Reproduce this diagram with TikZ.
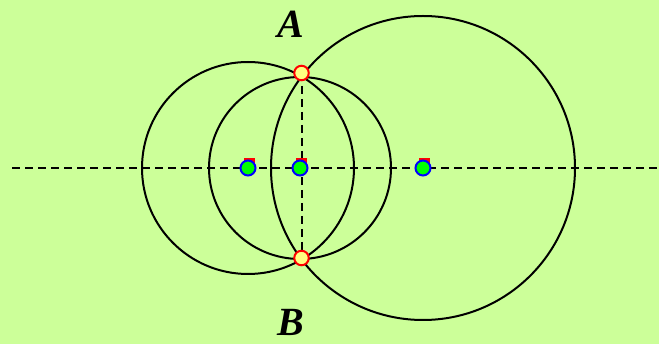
\documentclass[tikz,border=0pt]{standalone}
\usepackage{fontspec}
\setmainfont{Liberation Serif}
\usetikzlibrary{calc}
\definecolor{bgc}{RGB}{204,255,153}
\definecolor{ptyellow}{RGB}{255,255,128}
\definecolor{ctrgreen}{RGB}{0,255,0}
\begin{document}
\begin{tikzpicture}[x=1pt,y=-1pt,
  circ/.style={line width=2pt},
  guide/.style={line width=2pt, dash pattern=on 8pt off 5pt},
  ctr/.style={circle, fill=ctrgreen, draw=blue, line width=2pt, minimum size=15pt, inner sep=0pt},
  ipt/.style={circle, fill=ptyellow, draw=red, line width=2pt, minimum size=14.5pt, inner sep=0pt},
  tag/.style={fill=red},
  lbl/.style={font=\fontsize{40}{40}\selectfont\bfseries\itshape, inner sep=0pt}]
\fill[bgc] (0,0) rectangle (659,344);
\useasboundingbox (0,0) rectangle (659,344);
\coordinate (L) at (12,168);
\coordinate (R) at (659,168);
\coordinate (c1) at (248,168);
\coordinate (c2) at (300,168);
\coordinate (c3) at (423,168);
\coordinate (a) at (301.5,73);
\coordinate (b) at (301.5,258);
% guides
\draw[guide] (L) -- (R);
\draw[guide] (a) -- (b);
% circles
\draw[circ] (c1) circle[radius=106];
\draw[circ] (c2) circle[radius=91];
\draw[circ] (c3) circle[radius=152];
% red tags behind centres
\foreach \c in {c1,c2,c3}{
  \fill[tag] ($(\c)+(-4.5,-9.5)$) rectangle ($(\c)+(6.5,-3)$);
}
% centre points
\node[ctr] (p1) at (c1) {};
\node[ctr] (p2) at (c2) {};
\node[ctr] (p3) at (c3) {};
% intersection points
\node[ipt] (A) at (a) {};
\node[ipt] (B) at (b) {};
% labels
\node[lbl] (lA) at (291,24) {A};
\node[lbl] (lB) at (291,322) {B};
\end{tikzpicture}
\end{document}
